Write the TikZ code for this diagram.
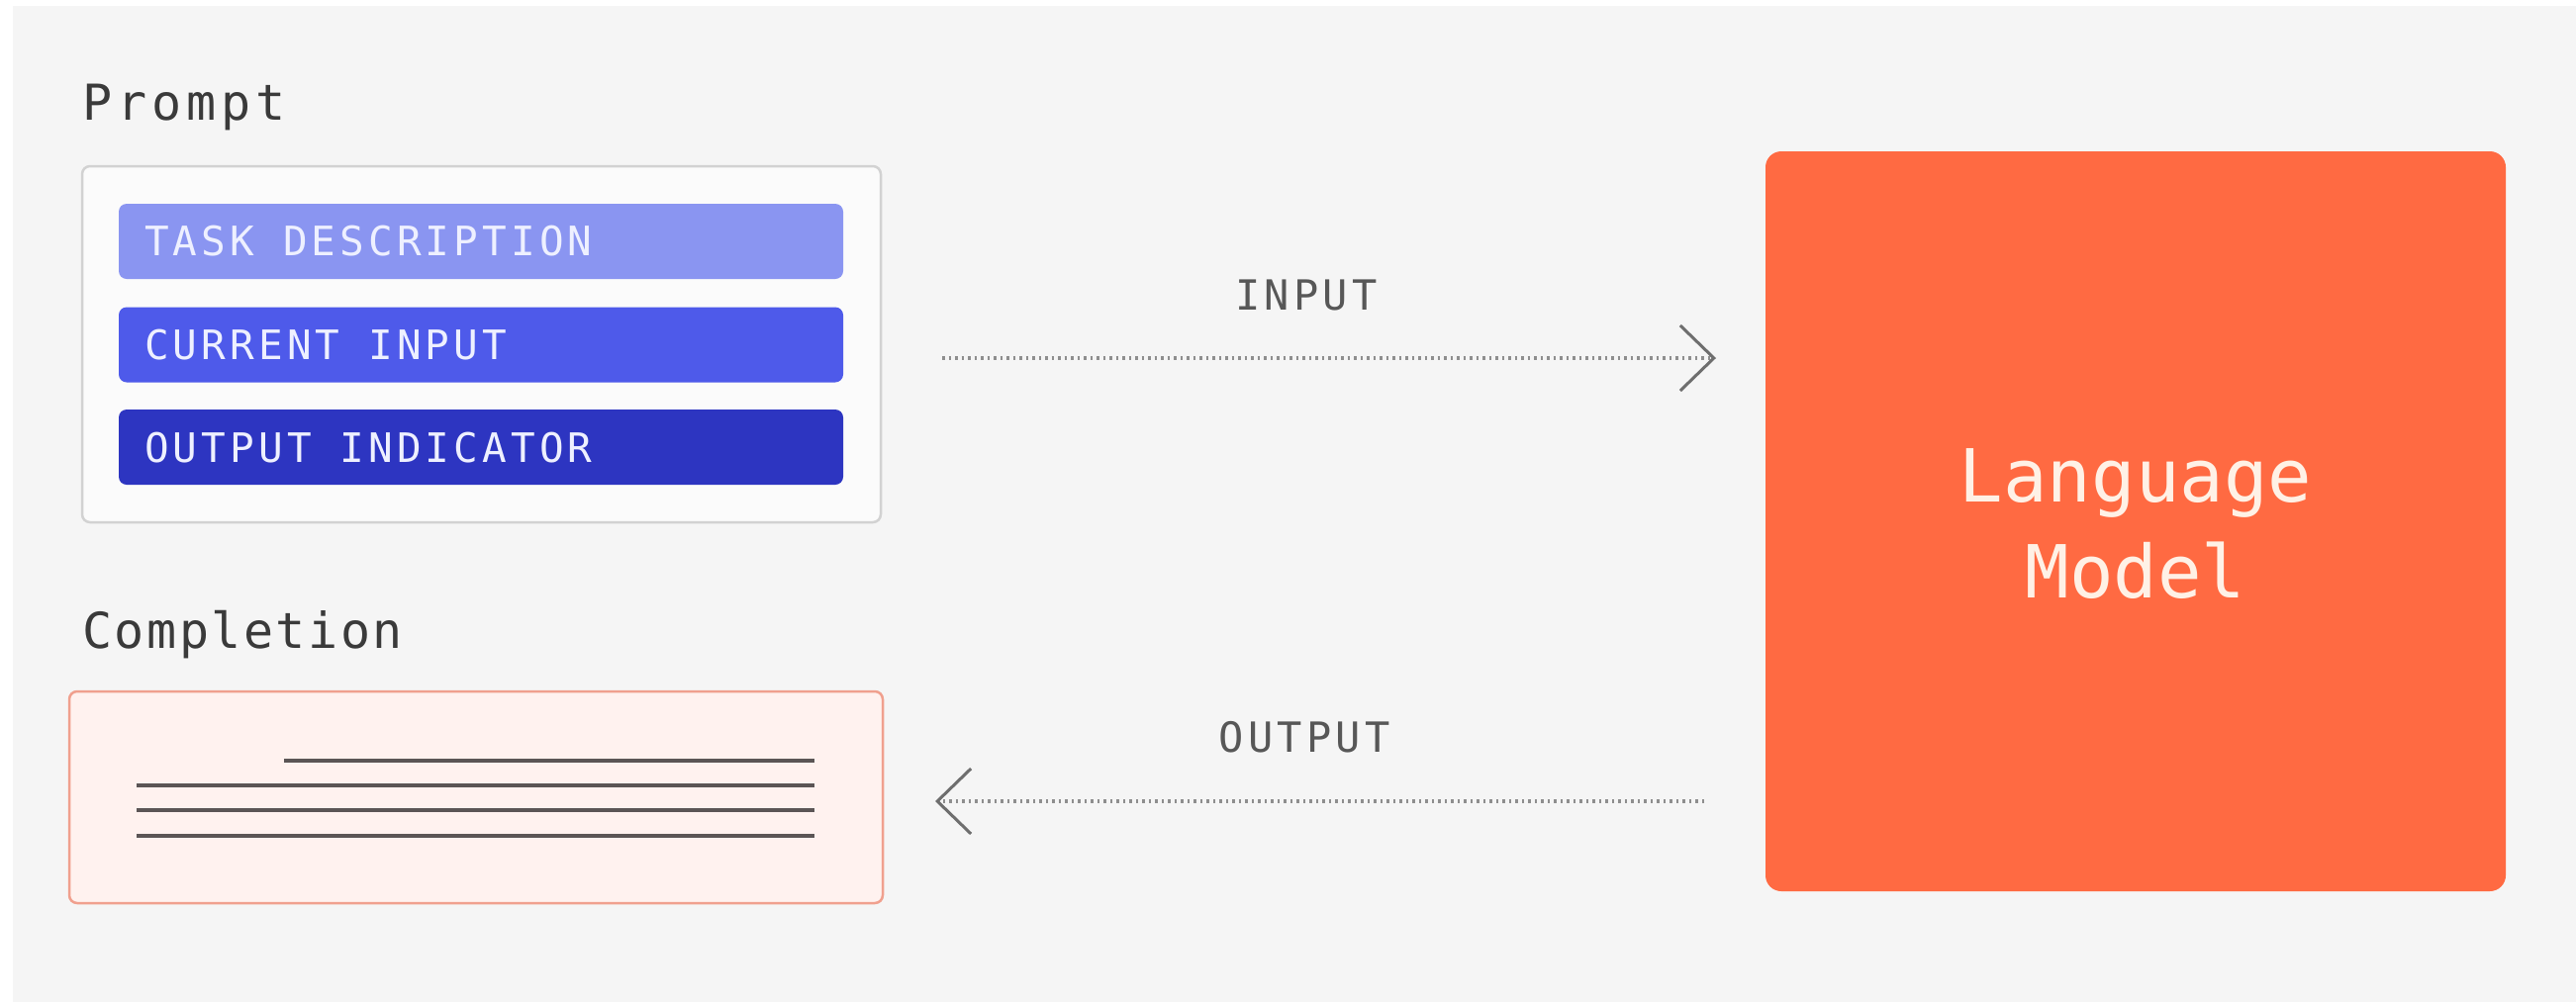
\documentclass[tikz,border=0pt]{standalone}
\usepackage{fontspec}
\usetikzlibrary{arrows.meta}
\newfontfamily\labfont[LetterSpace=5]{DejaVu Sans Mono}
\newfontfamily\promptfont[LetterSpace=10]{DejaVu Sans Mono}
\newfontfamily\barfont[LetterSpace=10]{DejaVu Sans Mono}
\newfontfamily\lmfont{DejaVu Sans Mono}
\definecolor{bgc}{HTML}{F5F5F5}
\definecolor{pfill}{HTML}{FBFBFB}
\definecolor{pdraw}{HTML}{D2D2D2}
\definecolor{barA}{HTML}{8A95F1}
\definecolor{barB}{HTML}{4E5AEA}
\definecolor{barC}{HTML}{2D35C1}
\definecolor{bartext}{HTML}{EEF0FF}
\definecolor{cfill}{HTML}{FFF2EF}
\definecolor{cdraw}{HTML}{F0A08E}
\definecolor{linec}{HTML}{5B5555}
\definecolor{orangec}{HTML}{FF6A42}
\definecolor{lmtext}{HTML}{FFF1E6}
\definecolor{labc}{HTML}{3A3A3A}
\definecolor{flowc}{HTML}{6E6E6E}
\definecolor{dotc}{HTML}{8E8E8E}
\tikzset{
  boxbase/.style={rectangle, inner sep=0pt, outer sep=0pt},
  promptbox/.style={boxbase, fill=pfill, draw=pdraw, line width=2.5pt, rounded corners=8pt, minimum width=807pt, minimum height=360pt},
  barbox/.style={boxbase, rounded corners=8pt, minimum width=732pt, minimum height=76pt},
  bartxt/.style={inner sep=0pt, anchor=base west, text=bartext, font=\barfont\fontsize{41}{41}\selectfont},
  labtxt/.style={inner sep=0pt, anchor=base west, text=labc, font=\labfont\fontsize{50}{50}\selectfont},
  flowtxt/.style={inner sep=0pt, anchor=base, text=labc!85, font=\barfont\fontsize{42}{42}\selectfont},
  compbox/.style={boxbase, fill=cfill, draw=cdraw, line width=2.5pt, rounded corners=8pt, minimum width=822pt, minimum height=214pt},
  lmbox/.style={boxbase, fill=orangec, rounded corners=16pt, minimum width=748pt, minimum height=748pt},
  lmtxt/.style={inner sep=0pt, anchor=base, text=lmtext, font=\lmfont\fontsize{74}{74}\selectfont},
  dotflow/.style={draw=dotc, line width=3.2pt, dash pattern=on 2.5pt off 4pt,
    -{Straight Barb[length=34pt, width=66pt, line width=3pt, color=flowc]}},
  textline/.style={draw=linec, line width=4pt}
}
\begin{document}
\begin{tikzpicture}[x=1pt, y=-1pt]
\useasboundingbox (0,0) rectangle (2603,1013);
\fill[white] (0,0) rectangle (2603,1013);
\fill[bgc] (13,6) rectangle (2603,1013);

% Prompt
\node[labtxt, font=\promptfont\fontsize{50}{50}\selectfont] (promptlab) at (83,121) {Prompt};
\node[promptbox] (prompt) at (486.5,348) {};
\node[barbox, fill=barA] (bar1) at (486,244) {};
\node[barbox, fill=barB] (bar2) at (486,348.5) {};
\node[barbox, fill=barC] (bar3) at (486,452) {};
\node[bartxt] (t1) at (146,258) {TASK DESCRIPTION};
\node[bartxt] (t2) at (146,363) {CURRENT INPUT};
\node[bartxt] (t3) at (146,467) {OUTPUT INDICATOR};

% Completion
\node[labtxt] (complab) at (83,655) {Completion};
\node[compbox] (comp) at (481,806) {};
\draw[textline] (287,769) -- (823,769);
\draw[textline] (138,794) -- (823,794);
\draw[textline] (138,819) -- (823,819);
\draw[textline] (138,845) -- (823,845);

% Language model
\node[lmbox] (lm) at (2158,527) {};
\node[lmtxt] (lm1) at (2158,507) {Language};
\node[lmtxt] (lm2) at (2158,604) {Model};

% Flows
\node[flowtxt] (inlab) at (1320,313) {INPUT};
\node[flowtxt] (outlab) at (1318,760) {OUTPUT};
\coordinate (inA) at (952,362);
\coordinate (inB) at (1734,362);
\coordinate (outA) at (1722,810);
\coordinate (outB) at (945,810);
\draw[dotflow] (inA) -- (inB);
\draw[dotflow] (outA) -- (outB);
\end{tikzpicture}
\end{document}
